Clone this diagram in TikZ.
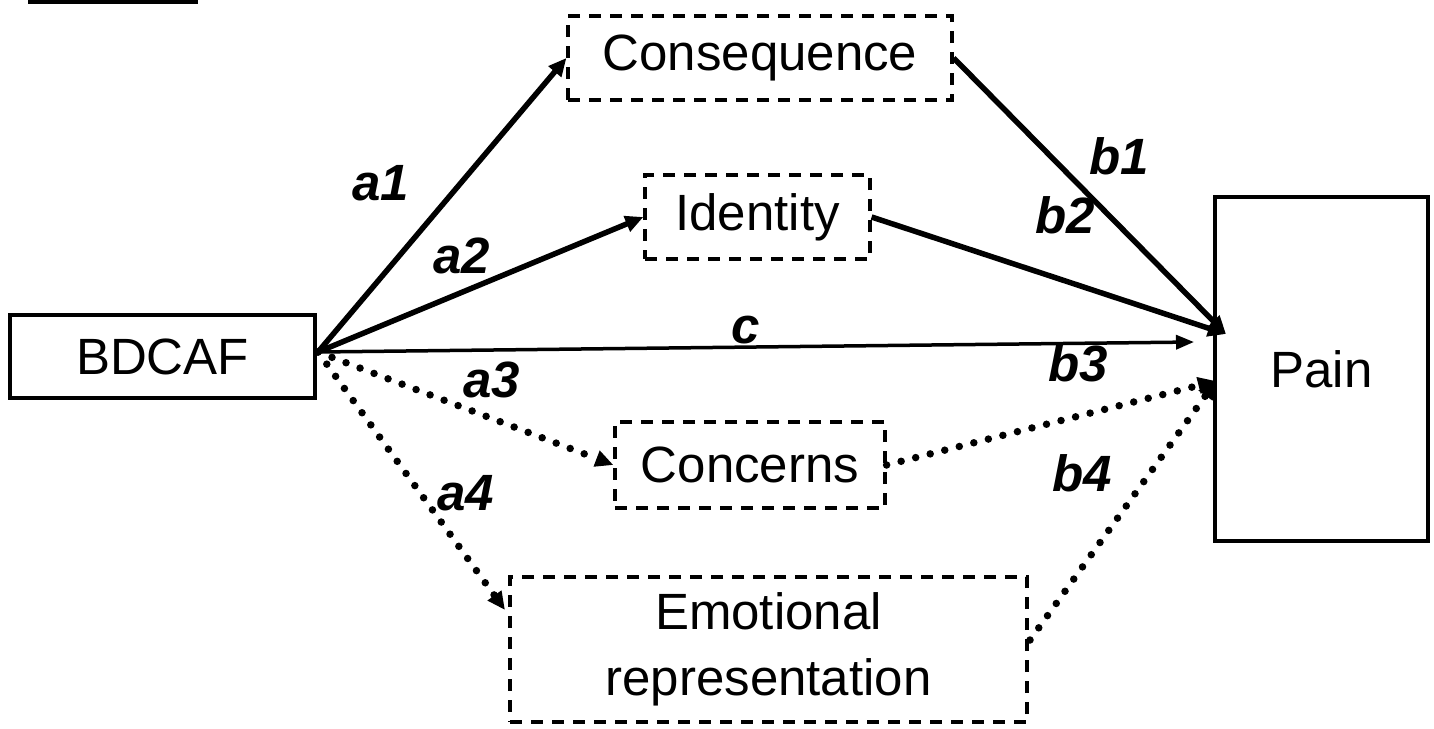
\documentclass[tikz,border=0pt]{standalone}
\usepackage{fontspec}
\setmainfont{Liberation Sans}
\usetikzlibrary{arrows.meta}
\begin{document}
\begin{tikzpicture}[x=1pt,y=-1pt,
  solidbox/.style={draw, line width=4.5pt, inner sep=0pt, align=center, font=\fontsize{51}{60}\selectfont},
  dashbox/.style={draw, line width=3.2pt, dash pattern=on 12pt off 9pt, inner sep=0pt, align=center, font=\fontsize{51}{60}\selectfont},
  solidarrow/.style={line width=5.5pt, -{Triangle[length=18pt,width=16pt]}},
  thinarrow/.style={line width=3.5pt, -{Triangle[length=18pt,width=14pt]}},
  dotarrow/.style={line width=7.5pt, line cap=round, dash pattern=on 0pt off 15pt, -{Triangle[length=18pt,width=16pt]}},
  lab/.style={font=\fontsize{51}{60}\selectfont\bfseries\itshape, inner sep=0pt}
]
\useasboundingbox (0,0) rectangle (1434,728);
% cut-off fragment at top-left
\draw[line width=5pt] (28,1) -- (198,1);

\node[solidbox, minimum width=305pt, minimum height=83pt] (bdcaf) at (162.5,356.5) {BDCAF};
\node[solidbox, minimum width=213pt, minimum height=344pt] (pain) at (1321.5,369) {Pain};
\node[dashbox, minimum width=384pt, minimum height=84pt] (cons) at (760,58) {\raisebox{-4pt}{Consequence}};
\node[dashbox, minimum width=225pt, minimum height=84pt] (ident) at (757.5,217) {\raisebox{-2pt}{Identity}};
\node[dashbox, minimum width=270pt, minimum height=86pt] (conc) at (750,465) {Concerns};
\node[dashbox, minimum width=517pt, minimum height=145pt, font=\fontsize{51}{66}\selectfont] (emo) at (768.5,649.5) {Emotional\\representation};

\coordinate (src) at (318,352);
\coordinate (painA) at (1226,334);
\coordinate (painC) at (1194,342);
\coordinate (painB) at (1216,381);
\coordinate (emoIn) at (505,610);
\coordinate (emoOut) at (1030,640);

\draw[solidarrow] (src) -- (cons.west);
\draw[solidarrow] (src) -- (ident.west);
\draw[thinarrow] (src) -- (painC);
\draw[dotarrow] (src) -- (conc.west);
\draw[dotarrow] (src) -- (emoIn);

\draw[solidarrow] (cons.east) -- (painA);
\draw[solidarrow] (ident.east) -- (painA);
\draw[dotarrow] (conc.east) -- (painB);
\draw[dotarrow] (emoOut) -- (painB);

\node[lab] (la1) at (381,183) {a1};
\node[lab] (la2) at (462,256) {a2};
\node[lab] (lc) at (746,330) {c};
\node[lab] (la3) at (492,380) {a3};
\node[lab] (la4) at (466,493) {a4};
\node[lab] (lb1) at (1119,156) {b1};
\node[lab] (lb2) at (1065,215) {b2};
\node[lab] (lb3) at (1078,363) {b3};
\node[lab] (lb4) at (1082,473) {b4};
\end{tikzpicture}
\end{document}
